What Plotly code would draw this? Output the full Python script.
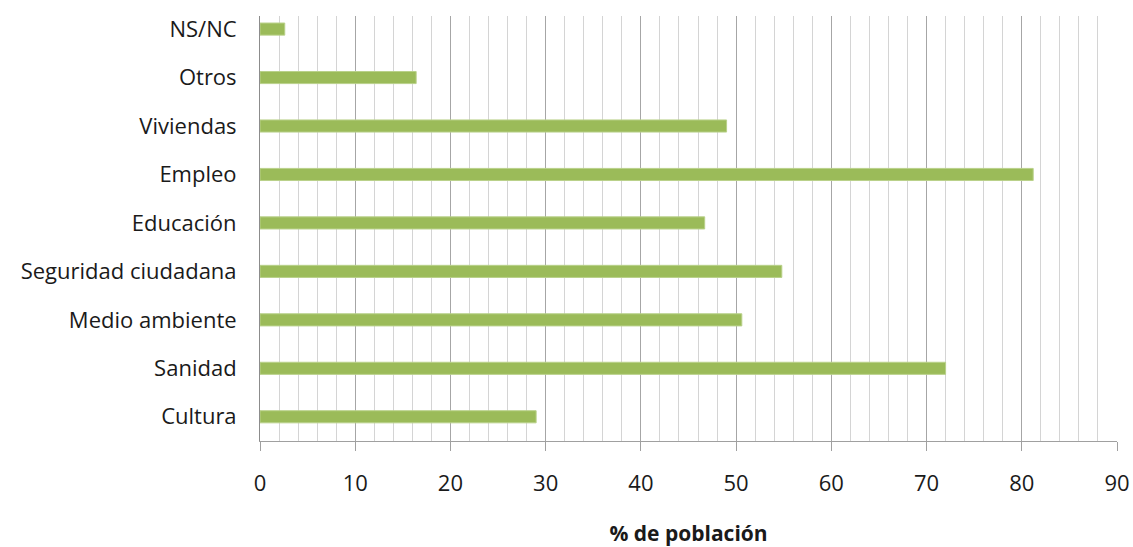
import plotly.graph_objects as go

categories = ["Cultura", "Sanidad", "Medio ambiente", "Seguridad ciudadana",
              "Educación", "Empleo", "Viviendas", "Otros", "NS/NC"]
values = [29.0, 72.0, 50.6, 54.8, 46.7, 81.2, 49.0, 16.4, 2.6]
x_ticks = [0, 10, 20, 30, 40, 50, 60, 70, 80, 90]

fig = go.Figure(go.Bar(
    x=values, y=categories, orientation="h",
    marker=dict(color="#9BBB59", line=dict(color="#B9D18A", width=1)),
    width=0.25,
))

fig.update_layout(
    width=1133, height=547,
    margin=dict(l=260, r=16, t=16, b=106),
    paper_bgcolor="white", plot_bgcolor="white",
    font=dict(family="Open Sans", size=22, color="#1a1a1a"),
    showlegend=False,
)
fig.update_xaxes(
    range=[0, 90], tickvals=x_ticks, ticktext=[str(t) for t in x_ticks],
    tickfont=dict(size=22),
    showgrid=True, gridcolor="#a6a6a6", gridwidth=1,
    minor=dict(dtick=2, showgrid=True, gridcolor="#d4d4d4", gridwidth=1, ticks=""),
    ticks="outside", ticklen=9, tickcolor="#a0a0a0",
    showline=True, linecolor="#a0a0a0", linewidth=1,
    zeroline=False, ticklabelstandoff=14, automargin=False,
    title=dict(text="<b>% de población</b>", font=dict(size=21, color="#1a1a1a"), standoff=48),
)
fig.update_yaxes(
    showgrid=False, zeroline=False, ticks="", ticklabelstandoff=18,
    showline=True, linecolor="#8c8c8c", linewidth=1, automargin=False,
    range=[-0.5, 8.27],
)

fig.write_html(
    "out.html",
    config={"displayModeBar": False},
    post_script="document.body.style.margin='0';document.documentElement.style.overflow='hidden';",
)
